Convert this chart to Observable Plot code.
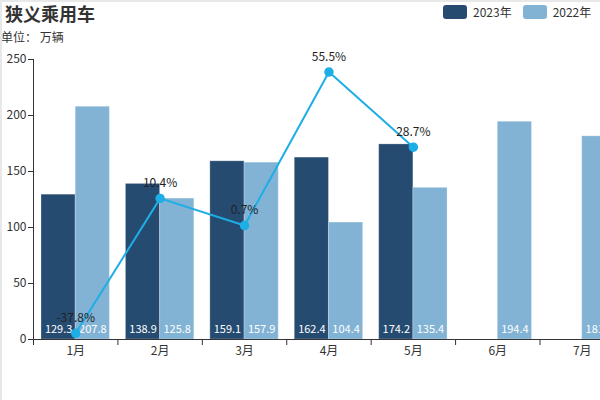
<!DOCTYPE html>
<html>
<head>
<meta charset="utf-8">
<script src="https://cdn.jsdelivr.net/npm/d3@7"></script>
<script src="https://cdn.jsdelivr.net/npm/@observablehq/plot@0.6"></script>
<style>
  html, body { margin: 0; padding: 0; background: #fff; overflow: hidden; }
  #wrap {
    position: relative; width: 598px; height: 398px; overflow: hidden;
    border-top: 2px solid #e8e8e8; border-left: 2px solid #e8e8e8;
    font-family: "Noto Sans CJK SC", "Noto Sans", sans-serif; color: #333;
  }
  #header { height: 45px; position: relative; }
  #title { position: absolute; left: 3px; top: 0; font-size: 18px; font-weight: bold; line-height: 22px; color: #333; white-space: nowrap; }
  #subtitle { position: absolute; left: -1px; top: 27px; font-size: 12px; line-height: 16px; color: #333; white-space: pre; }
  #legend { position: absolute; left: 441px; top: 3px; display: flex; align-items: center; font-size: 12px; line-height: 14px; white-space: nowrap; width: 200px; }
  .item { display: flex; align-items: center; margin-right: 11px; flex: none; }
  .sw { width: 24px; height: 14px; border-radius: 3px; margin-right: 6px; flex: none; }
  #chart { width: 1100px; }
  #chart svg { display: block; max-width: none !important; }
</style>
</head>
<body>
<div id="wrap">
  <div id="header">
    <div id="title">狭义乘用车</div>
    <div id="subtitle">单位： 万辆</div>
    <div id="legend"></div>
  </div>
  <div id="chart"></div>
</div>
<script>
// ---- data ----
const months = ["1月", "2月", "3月", "4月", "5月", "6月", "7月", "8月", "9月", "10月", "11月", "12月"];
const sales2023 = [129.3, 138.9, 159.1, 162.4, 174.2];
const sales2022 = [207.8, 125.8, 157.9, 104.4, 135.4, 194.4, 181.4];
const growth = [-37.8, 10.4, 0.7, 55.5, 28.7];
const yTicks = [0, 50, 100, 150, 200, 250];
const growthDomain = [-40, 60];
const seriesNames = ["2023年", "2022年"];
const colors = ["#254b71", "#82b3d5"];
const lineColor = "#1eaee6";

// ---- legend ----
const legend = document.getElementById("legend");
seriesNames.forEach((n, i) => {
  const it = document.createElement("div");
  it.className = "item";
  it.innerHTML = `<div class="sw" style="background:${colors[i]}"></div><span>${n}</span>`;
  legend.appendChild(it);
});

// ---- tables ----
const rows2023 = sales2023.map((v, i) => ({month: months[i], value: v}));
const rows2022 = sales2022.map((v, i) => ({month: months[i], value: v}));
const rowsGrowth = growth.map((g, i) => ({month: months[i], growth: g}));

const yDomain = [0, 250];
const toLeft = d3.scaleLinear(growthDomain, yDomain); // secondary axis mapped onto primary

const mL = 31, mR = 41;
const frameW = 1013;
const step = frameW / months.length;
const half = step / 2;
const pInner = 0.19;
const bw = step * (1 - pInner);

const chart = Plot.plot({
  width: mL + frameW + mR,
  height: 352,
  marginLeft: mL,
  marginRight: mR,
  marginTop: 12,
  marginBottom: 60,
  style: {fontFamily: "'Noto Sans CJK SC', 'Noto Sans', sans-serif", fontSize: "12px", color: "#333", background: "transparent", maxWidth: "none"},
  x: {type: "band", domain: months, paddingInner: pInner, paddingOuter: pInner / 2, round: false, axis: null, label: null},
  y: {domain: yDomain, axis: null, label: null},
  marks: [
    Plot.barY(rows2023, {x: "month", y: "value", fill: colors[0], insetRight: bw / 2, stroke: "#ffffff", strokeOpacity: 0.25, strokeWidth: 1}),
    Plot.barY(rows2022, {x: "month", y: "value", fill: colors[1], insetLeft: bw / 2, stroke: "#ffffff", strokeOpacity: 0.25, strokeWidth: 1}),
    Plot.text(rows2023, {x: "month", y: 0, text: d => d.value.toFixed(1), dx: -bw / 4, dy: -10, fill: "#fff", fontSize: 11, lineAnchor: "middle"}),
    Plot.text(rows2022, {x: "month", y: 0, text: d => d.value.toFixed(1), dx: bw / 4, dy: -10, fill: "#fff", fontSize: 11, lineAnchor: "middle"}),
    // axes
    Plot.ruleY([0], {stroke: "#333"}),
    Plot.ruleX([months[0]], {dx: -half, stroke: "#333"}),
    Plot.ruleX(months, {x: d => d, dx: -half, stroke: "#333", insetTop: 280, insetBottom: -6}),
    Plot.axisX({tickSize: 0, tickPadding: 7, fontSize: 12, fill: "#333", label: null}),
    Plot.axisY({ticks: yTicks, tickSize: 5, tickPadding: 2, fontSize: 12, stroke: "#333", fill: "#333", label: null}),
    // growth line
    Plot.line(rowsGrowth, {x: "month", y: d => toLeft(d.growth), stroke: lineColor, strokeWidth: 2}),
    Plot.dot(rowsGrowth, {x: "month", y: d => toLeft(d.growth), r: 4, fill: lineColor, stroke: lineColor}),
    Plot.text(rowsGrowth, {x: "month", y: d => toLeft(d.growth), text: d => d.growth.toFixed(1) + "%", dy: -15, fill: "#222", fontSize: 12, lineAnchor: "middle"})
  ]
});
document.getElementById("chart").appendChild(chart);
</script>
</body>
</html>
